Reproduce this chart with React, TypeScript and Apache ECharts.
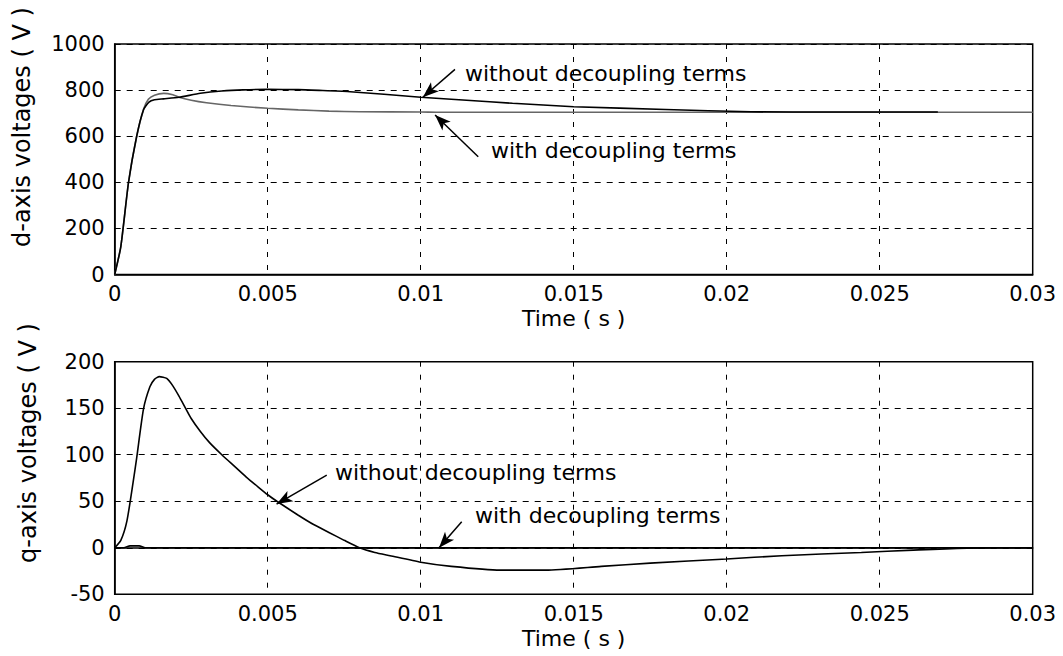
import React, { useEffect, useRef } from "react";
import * as echarts from "echarts";

// ---- Data ----
const X_TICKS_MIN = 0;
const X_TICKS_MAX = 0.03;
const X_INTERVAL = 0.005;

// d-axis voltages
const D_T_WITHOUT = [0, 0.0002, 0.00045, 0.00072, 0.00094, 0.00112, 0.0013, 0.0016, 0.0021, 0.0028, 0.0035, 0.0042, 0.005, 0.006, 0.0068, 0.0077, 0.0088, 0.01, 0.0115, 0.013, 0.015, 0.018, 0.0208, 0.0235, 0.0269];
const D_V_WITHOUT = [0, 121, 398, 601, 714, 748, 758, 762, 769, 786, 796, 801, 803, 802, 798, 793, 782, 769, 756, 743, 728, 716, 706, 705, 705];
const D_T_WITH = [0, 0.0002, 0.00045, 0.00072, 0.00094, 0.0011, 0.0013, 0.0016, 0.0019, 0.0021, 0.0025, 0.003, 0.0038, 0.005, 0.006, 0.007, 0.008, 0.01, 0.0105, 0.015, 0.02, 0.025, 0.03];
const D_V_WITH = [0, 121, 398, 601, 716, 760, 778, 786, 780, 769, 756, 745, 733, 721, 714, 709, 706, 705, 704, 704, 704, 704, 704];

// q-axis voltages
const Q_T_WITHOUT = [0, 0.0002, 0.0004, 0.0006, 0.00072, 0.00094, 0.00115, 0.0013, 0.00146, 0.0017, 0.0019, 0.0021, 0.0023, 0.0025, 0.0028, 0.0031, 0.0035, 0.0039, 0.0043, 0.0047, 0.005, 0.0053, 0.006, 0.0065, 0.007, 0.0075, 0.008, 0.0085, 0.009, 0.01, 0.011, 0.0126, 0.0141, 0.0159, 0.0175, 0.02, 0.0218, 0.0244, 0.0261, 0.0287, 0.03];
const Q_V_WITHOUT = [0, 8, 29, 70, 97, 149, 173, 181, 184, 182, 174, 163, 151, 139, 125, 113, 100, 88, 76, 65, 57, 50, 35, 25, 16.5, 8, 0, -5, -8.5, -15.5, -20, -24, -24, -20, -16.5, -12, -8.5, -5, -2.5, 0, 0];
const Q_T_WITH = [0, 0.0003, 0.0005, 0.0008, 0.001, 0.03];
const Q_V_WITH = [0, 0, 2, 2, 0, 0];

// annotation arrows: [tailT, tailV, tipT, tipV]
const D_ARROW_WITHOUT = [0.01112, 890, 0.01007, 769];
const D_ARROW_WITH = [0.01188, 511, 0.01047, 692];
const Q_ARROW_WITHOUT = [0.00693, 78, 0.00529, 47];
const Q_ARROW_WITH = [0.01134, 28, 0.0106, 0];

const LABEL_WITHOUT = "without decoupling terms";
const LABEL_WITH = "with decoupling terms";
const D_NAME = "d-axis voltages ( V )";
const Q_NAME = "q-axis voltages ( V )";
const X_NAME = "Time ( s )";

const FONT = "DejaVu Sans";

const pairs = (t: number[], v: number[]) => t.map((x, i) => [x, v[i]]);

const arrow = (a: number[]) => ({
  silent: true,
  symbol: ["none", "arrow"],
  symbolSize: [9, 16],
  lineStyle: { color: "#000", width: 1.5, type: "solid" },
  label: { show: false },
  emphasis: { disabled: true },
  data: [[{ coord: [a[0], a[1]] }, { coord: [a[2], a[3]] }]],
});

export default function App() {
  const ref = useRef<HTMLDivElement>(null);
  useEffect(() => {
    if (!ref.current) return;
    const chart = echarts.init(ref.current, undefined, { renderer: "svg" });
    const gridBase = { left: 114.7, width: 918, show: true, borderColor: "#000", borderWidth: 1.5, backgroundColor: "transparent" };
    const xAxisBase = (gi: number) => ({
      type: "value",
      gridIndex: gi,
      min: X_TICKS_MIN,
      max: X_TICKS_MAX,
      interval: X_INTERVAL,
      name: X_NAME,
      nameLocation: "middle",
      nameGap: 33,
      nameTextStyle: { fontFamily: FONT, fontSize: 22, color: "#000" },
      axisLine: { show: true, lineStyle: { color: "#000", width: 1.5 } },
      axisTick: { show: false },
      axisLabel: { fontFamily: FONT, fontSize: 21, color: "#000", margin: 9, formatter: (v: number) => String(+v.toFixed(4)) },
      splitLine: { show: true, lineStyle: { color: "#000", width: 1, type: [5, 8] } },
    });
    const yAxisBase = (gi: number, min: number, max: number, interval: number) => ({
      type: "value",
      gridIndex: gi,
      min,
      max,
      interval,
      axisLine: { show: true, lineStyle: { color: "#000", width: 1.5 } },
      axisTick: { show: false },
      axisLabel: { fontFamily: FONT, fontSize: 21, color: "#000", margin: 10, formatter: (v: number) => String(v) },
      splitLine: { show: true, lineStyle: { color: "#000", width: 1, type: [6, 6] } },
    });
    const lineBase = { type: "line", showSymbol: false, symbol: "none", silent: true, smooth: 0.2 };
    chart.setOption({
      animation: false,
      backgroundColor: "#fff",
      grid: [
        { ...gridBase, top: 44, height: 230.5 },
        { ...gridBase, top: 361.7, height: 232.6 },
      ],
      xAxis: [xAxisBase(0), xAxisBase(1)],
      yAxis: [yAxisBase(0, 0, 1000, 200), yAxisBase(1, -50, 200, 50)],
      series: [
        {
          ...lineBase,
          name: "d with",
          xAxisIndex: 0,
          yAxisIndex: 0,
          data: pairs(D_T_WITH, D_V_WITH),
          lineStyle: { color: "#666", width: 1.6 },
          markLine: arrow(D_ARROW_WITH),
        },
        {
          ...lineBase,
          name: "d without",
          xAxisIndex: 0,
          yAxisIndex: 0,
          data: pairs(D_T_WITHOUT, D_V_WITHOUT),
          lineStyle: { color: "#000", width: 1.6 },
          markLine: arrow(D_ARROW_WITHOUT),
        },
        {
          ...lineBase,
          name: "q with",
          xAxisIndex: 1,
          yAxisIndex: 1,
          data: pairs(Q_T_WITH, Q_V_WITH),
          lineStyle: { color: "#000", width: 1.6 },
          markLine: arrow(Q_ARROW_WITH),
        },
        {
          ...lineBase,
          name: "q without",
          xAxisIndex: 1,
          yAxisIndex: 1,
          data: pairs(Q_T_WITHOUT, Q_V_WITHOUT),
          lineStyle: { color: "#000", width: 1.6 },
          markLine: arrow(Q_ARROW_WITHOUT),
        },
      ],
      graphic: [
        { type: "text", x: 22, y: 127, rotation: Math.PI / 2, style: { text: D_NAME, fontFamily: FONT, fontSize: 24, fill: "#000", align: "center", verticalAlign: "middle" } },
        { type: "text", x: 28, y: 443, rotation: Math.PI / 2, style: { text: Q_NAME, fontFamily: FONT, fontSize: 24, fill: "#000", align: "center", verticalAlign: "middle" } },
        { type: "text", x: 465, y: 73, style: { text: LABEL_WITHOUT, fontFamily: FONT, fontSize: 22, fill: "#000", align: "left", verticalAlign: "middle" } },
        { type: "text", x: 491, y: 150, style: { text: LABEL_WITH, fontFamily: FONT, fontSize: 22, fill: "#000", align: "left", verticalAlign: "middle" } },
        { type: "text", x: 335, y: 472, style: { text: LABEL_WITHOUT, fontFamily: FONT, fontSize: 22, fill: "#000", align: "left", verticalAlign: "middle" } },
        { type: "text", x: 475, y: 515, style: { text: LABEL_WITH, fontFamily: FONT, fontSize: 22, fill: "#000", align: "left", verticalAlign: "middle" } },
      ],
    });
    return () => chart.dispose();
  }, []);
  return (
    <div
      ref={ref}
      style={{ position: "absolute", left: 0, top: 0, width: 1063, height: 656, background: "#fff" }}
    />
  );
}
